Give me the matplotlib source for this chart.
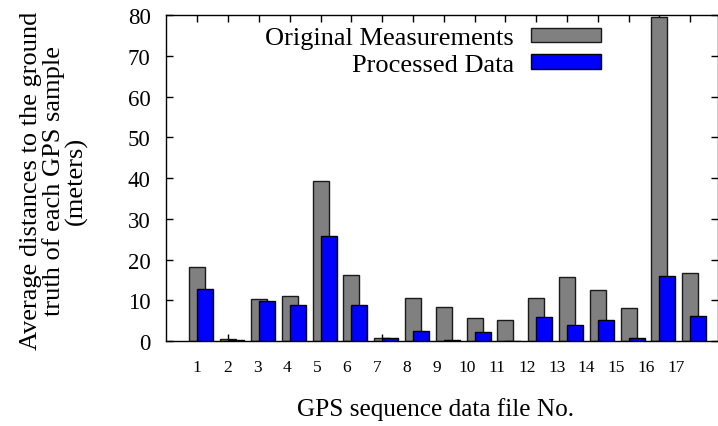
import numpy as np
import matplotlib.pyplot as plt

plt.rcParams['font.family'] = ['Liberation Serif', 'DejaVu Serif']

# average distance to ground truth per GPS file (meters)
files = np.arange(1, 18)
original = [18.2, 0.5, 10.3, 11.0, 39.3, 16.3, 0.7, 10.5, 8.3, 5.6, 5.2,
            10.5, 15.8, 12.4, 8.2, 79.6, 16.6]
processed = [12.8, 0.25, 9.8, 8.8, 25.7, 8.8, 0.65, 2.4, 0.15, 2.2, 0.1,
             5.8, 3.9, 5.1, 0.65, 16.0, 6.1]
tick_labels = [str(i) for i in files]

fig = plt.figure(figsize=(7.18, 4.27), dpi=100)
ax = fig.add_axes([0.2312, 0.199, 0.7688, 0.7635])

ax.bar(files, original, width=0.52, color='#808080', edgecolor='#1a1a1a',
       linewidth=1.0, label='Original Measurements', zorder=2)
ax.bar(files, processed, width=0.52, align='edge', color='#0000ff',
       edgecolor='#000000', linewidth=1.0, label='Processed Data', zorder=3)

ax.set_xlim(-0.016, 17.9)
ax.set_ylim(0, 80)

# ticks on all four sides, pointing inward
ax.xaxis.remove_overlapping_locs = False
ax.set_xticks(files)
ax.set_xticklabels([])
ax.tick_params(axis='x', which='major', direction='in', length=5, width=1,
               top=True, bottom=True)
# tick labels sit on a slightly tighter pitch than the ticks
ax.set_xticks(1 + (files - 1) * 0.972, minor=True)
ax.set_xticklabels(tick_labels, minor=True, fontsize=12.5)
ax.tick_params(axis='x', which='minor', length=0, pad=13)

ax.set_yticks(np.arange(0, 81, 10))
ax.tick_params(axis='y', direction='in', length=5, width=1, left=True,
               right=True, labelsize=16.5, pad=11)

for s in ax.spines.values():
    s.set_linewidth(1.0)

ax.set_xlabel('GPS sequence data file No.', fontsize=18.2)
ax.xaxis.label.set_va('center')
ax.xaxis.set_label_coords(0.489, -0.2055)

fig.text(0.0755, 0.576,
         'Average distances to the ground\ntruth of each GPS sample\n(meters)',
         rotation=90, ha='center', va='center', multialignment='center',
         fontsize=19, linespacing=1.0)

ax.legend(loc='upper right', bbox_to_anchor=(0.788, 0.962), frameon=False,
          markerfirst=False, fontsize=19, handlelength=2.65, handleheight=0.47,
          handletextpad=0.65, labelspacing=0.18, borderpad=0, borderaxespad=0)

fig.savefig('out.png', dpi=100)
